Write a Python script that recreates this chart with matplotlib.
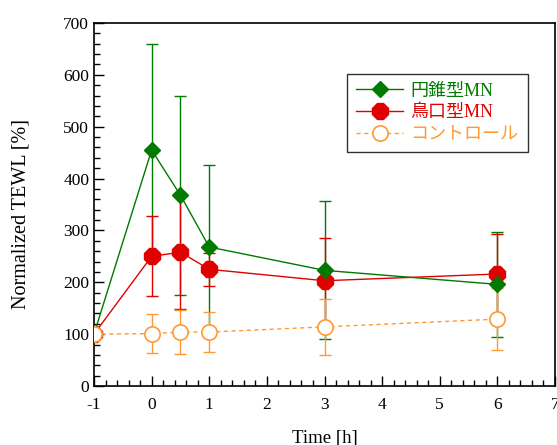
import matplotlib
matplotlib.use("Agg")
import matplotlib.pyplot as plt
from matplotlib.ticker import MultipleLocator

plt.rcParams['font.family'] = ['Liberation Serif', 'Noto Sans CJK JP']
plt.rcParams['axes.unicode_minus'] = False

time = [-1, 0, 0.5, 1, 3, 6]
cone = [100, 455, 368, 268, 223, 196]
cone_err = [0, 205, 192, 158, 133, 101]
beak = [100, 250, 258, 225, 203, 216]
beak_err = [0, 77, 110, 32, 82, 77]
ctrl = [100, 101, 104, 104, 114, 129]
ctrl_err = [0, 38, 42, 39, 54, 60]

labels = ['円錐型MN', '鳥口型MN', 'コントロール']
c_green = '#007a00'
c_red = '#e00000'
c_orange = '#ff9a33'

fig = plt.figure(figsize=(5.57, 4.45), dpi=100)
ax = fig.add_axes([94/557, 1-386/445, 461/557, 363/445])

ax.errorbar(time, cone, yerr=cone_err, fmt='none', ecolor=c_green, elinewidth=1, capsize=4, capthick=1, zorder=2)
ax.errorbar(time, beak, yerr=beak_err, fmt='none', ecolor=c_red, elinewidth=1, capsize=4, capthick=1, zorder=3)
ax.errorbar(time, ctrl, yerr=ctrl_err, fmt='none', ecolor=c_orange, elinewidth=1, capsize=4, capthick=1, zorder=4)

l2, = ax.plot(time, beak, color=c_red, lw=1, marker='8', ms=12, mfc=c_red, mec=c_red, zorder=6)
l1, = ax.plot(time, cone, color=c_green, lw=1, marker='D', ms=8.5, mfc=c_green, mec=c_green, zorder=7)
l3, = ax.plot(time, ctrl, color=c_orange, lw=1, ls=(0, (3, 2.5)), marker='o', ms=11,
              mfc='white', mec=c_orange, mew=1.2, zorder=8)

ax.set_xlim(-1, 7)
ax.set_ylim(0, 700)
ax.xaxis.set_major_locator(MultipleLocator(1))
ax.xaxis.set_minor_locator(MultipleLocator(0.2))
ax.yaxis.set_major_locator(MultipleLocator(100))
ax.yaxis.set_minor_locator(MultipleLocator(20))
ax.tick_params(which='both', direction='in', top=False, right=False, labelsize=12.5, colors='black')
ax.tick_params(which='major', length=7, width=1)
ax.tick_params(which='minor', length=4, width=1)
ax.tick_params(axis='x', pad=8)
for s in ax.spines.values():
    s.set_linewidth(1.2)

ax.set_xlabel('Time [h]', fontsize=13.5, labelpad=12)
ax.set_ylabel('Normalized TEWL [%]', fontsize=14.5)
ax.yaxis.set_label_coords(-0.138, 0.474)

leg = ax.legend([l1, l2, l3], labels, loc='upper left', bbox_to_anchor=(0.53, 0.885),
                fontsize=13, frameon=True, fancybox=False, edgecolor='black',
                handlelength=2.6, borderpad=0.5, labelspacing=0.25, handletextpad=0.4)
leg.get_frame().set_linewidth(1)
for t, c in zip(leg.get_texts(), [c_green, c_red, c_orange]):
    t.set_color(c)

fig.savefig('out.png', dpi=100)
